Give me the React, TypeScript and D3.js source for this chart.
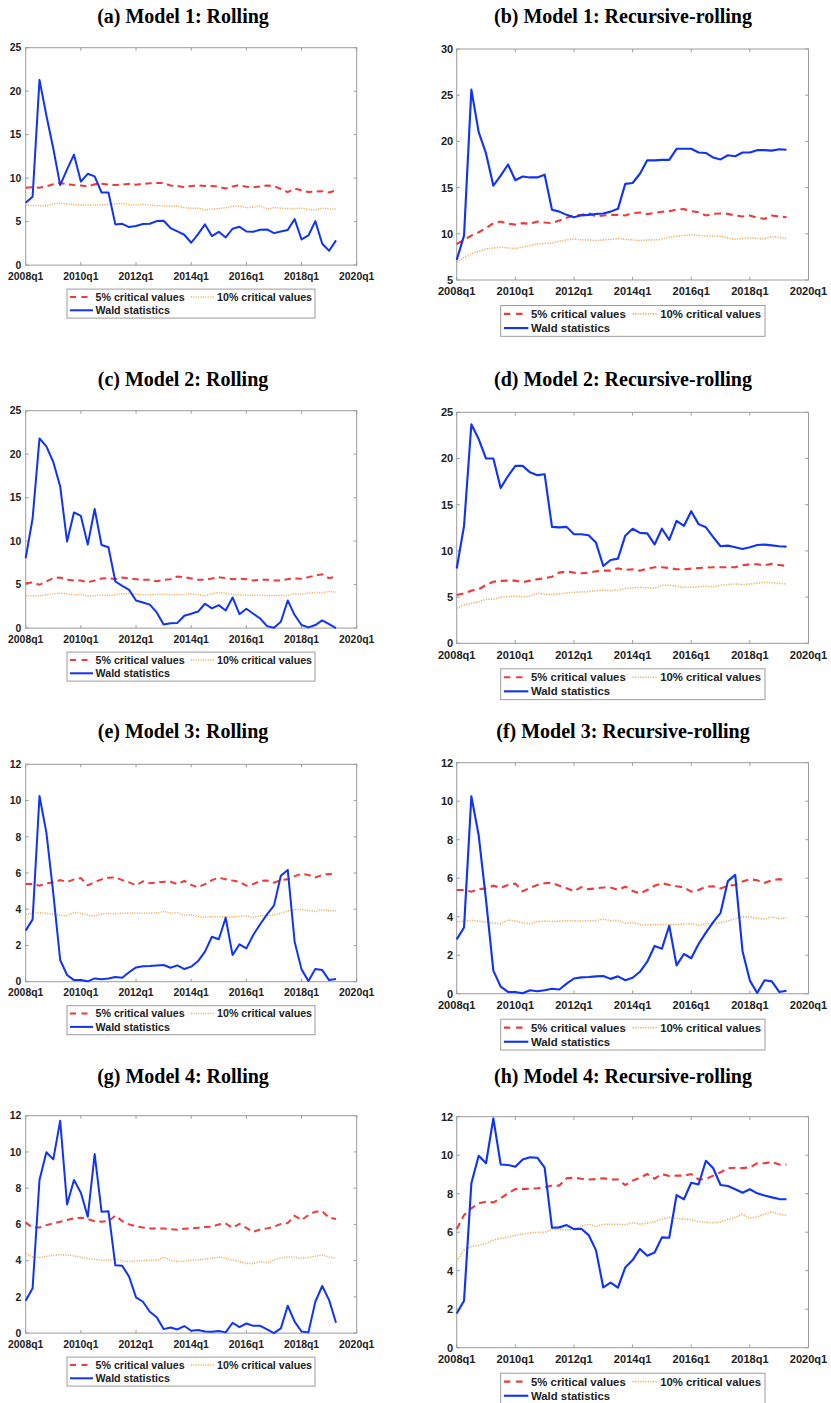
import React from 'react';
import * as d3 from 'd3';

// Quarterly axis: index 0 = 2008q1, labelled every two years.
const xTickQuarters = [0, 8, 16, 24, 32, 40, 48];
const xTickLabels = ['2008q1', '2010q1', '2012q1', '2014q1', '2016q1', '2018q1', '2020q1'];

// Series run 2008q1 .. 2019q2 (46 quarters).
// Model 1, rolling
const waldA = [7.17, 7.86, 21.3, 17.2, 13.4, 9.2, 11.0, 12.7, 9.6, 10.5, 10.2, 8.35, 8.35, 4.68, 4.75, 4.37, 4.49, 4.72, 4.75, 5.06, 5.1, 4.26, 3.87, 3.49, 2.57, 3.57, 4.68, 3.34, 3.83, 3.18, 4.18, 4.41, 3.87, 3.83, 4.06, 4.1, 3.68, 3.87, 4.03, 5.29, 2.95, 3.41, 5.06, 2.45, 1.65, 2.84];
const cv5A = [8.9, 8.95, 8.9, 9.05, 9.3, 9.45, 9.3, 9.2, 9.15, 9.05, 9.3, 9.35, 9.25, 9.2, 9.25, 9.35, 9.25, 9.35, 9.4, 9.45, 9.45, 9.15, 9.1, 8.95, 9.1, 9.15, 9.1, 9.1, 9.0, 8.8, 9.05, 9.2, 9.0, 8.95, 9.05, 9.15, 9.1, 8.75, 8.4, 8.8, 8.6, 8.4, 8.45, 8.5, 8.35, 8.6];
const cv10A = [6.85, 6.85, 6.85, 6.8, 7.05, 7.1, 7.05, 6.95, 6.9, 6.9, 6.9, 6.9, 7.0, 7.05, 7.1, 6.95, 6.9, 7.0, 6.9, 6.85, 6.8, 6.75, 6.8, 6.6, 6.55, 6.55, 6.35, 6.45, 6.5, 6.6, 6.75, 6.8, 6.6, 6.65, 6.8, 6.45, 6.6, 6.55, 6.5, 6.5, 6.55, 6.4, 6.35, 6.55, 6.45, 6.45];

// Model 1, recursive-rolling
const waldB = [7.17, 9.8, 25.6, 21.0, 18.7, 15.2, 16.3, 17.5, 15.8, 16.2, 16.1, 16.1, 16.4, 12.6, 12.4, 12.05, 11.8, 12.0, 12.05, 12.15, 12.2, 12.4, 12.7, 15.4, 15.5, 16.5, 17.95, 17.95, 18.0, 18.0, 19.2, 19.2, 19.2, 18.8, 18.75, 18.25, 18.05, 18.5, 18.4, 18.8, 18.8, 19.05, 19.05, 19.0, 19.15, 19.1];
const cv5B = [8.9, 9.34, 9.8, 10.17, 10.6, 11.15, 11.33, 11.08, 11.0, 11.15, 11.08, 11.33, 11.22, 11.15, 11.44, 11.73, 11.98, 12.05, 12.24, 11.87, 11.98, 12.05, 12.05, 11.98, 12.24, 12.3, 12.13, 12.27, 12.38, 12.45, 12.63, 12.67, 12.45, 12.34, 11.98, 12.16, 12.2, 12.16, 11.98, 11.87, 11.98, 11.73, 11.62, 11.98, 11.87, 11.8];
const cv10B = [6.9, 7.46, 7.82, 8.1, 8.36, 8.47, 8.55, 8.47, 8.4, 8.55, 8.73, 8.9, 8.98, 9.0, 9.2, 9.34, 9.45, 9.34, 9.34, 9.27, 9.34, 9.4, 9.49, 9.4, 9.34, 9.27, 9.34, 9.34, 9.4, 9.63, 9.74, 9.81, 9.88, 9.81, 9.78, 9.74, 9.74, 9.56, 9.41, 9.49, 9.56, 9.49, 9.45, 9.7, 9.63, 9.49];

// Model 2, rolling
const waldC = [8.04, 12.6, 21.8, 20.9, 19.1, 16.3, 9.95, 13.3, 12.9, 9.6, 13.7, 9.55, 9.3, 5.36, 4.86, 4.4, 3.18, 2.95, 2.7, 1.8, 0.42, 0.57, 0.6, 1.42, 1.65, 1.9, 2.8, 2.26, 2.64, 2.03, 3.52, 1.6, 2.22, 1.65, 1.1, 0.23, 0.04, 0.73, 3.18, 1.5, 0.35, 0.08, 0.35, 0.88, 0.46, 0.0];
const cv5C = [5.17, 5.25, 4.98, 5.36, 5.74, 5.82, 5.55, 5.47, 5.47, 5.28, 5.47, 5.7, 5.74, 5.63, 5.82, 5.7, 5.63, 5.55, 5.55, 5.4, 5.55, 5.63, 5.93, 5.86, 5.7, 5.55, 5.55, 5.7, 5.86, 5.74, 5.63, 5.67, 5.63, 5.47, 5.55, 5.55, 5.47, 5.47, 5.63, 5.7, 5.67, 5.86, 6.05, 6.2, 5.74, 5.93];
const cv10C = [3.75, 3.71, 3.71, 3.83, 3.94, 4.02, 3.94, 3.83, 3.87, 3.68, 3.75, 3.79, 3.75, 3.83, 3.94, 3.98, 3.9, 3.83, 3.87, 3.87, 3.9, 3.83, 3.87, 3.87, 3.94, 3.83, 3.71, 3.94, 4.1, 4.02, 3.87, 3.83, 3.79, 3.79, 3.79, 3.75, 3.75, 3.75, 3.75, 3.94, 3.9, 4.02, 4.1, 4.06, 4.21, 4.13];

// Model 2, recursive-rolling
const waldD = [8.1, 12.7, 23.7, 22.1, 20.0, 20.0, 16.8, 18.1, 19.2, 19.2, 18.5, 18.2, 18.3, 12.6, 12.55, 12.6, 11.8, 11.8, 11.7, 10.9, 8.37, 9.02, 9.16, 11.65, 12.4, 11.95, 11.9, 10.7, 12.4, 11.2, 13.25, 12.7, 14.3, 12.9, 12.55, 11.5, 10.5, 10.57, 10.4, 10.2, 10.4, 10.64, 10.68, 10.6, 10.5, 10.46];
const cv5D = [5.23, 5.41, 5.7, 5.84, 6.31, 6.67, 6.75, 6.78, 6.78, 6.6, 6.78, 6.93, 7.03, 7.21, 7.65, 7.76, 7.65, 7.58, 7.65, 7.79, 7.86, 7.86, 8.12, 7.94, 8.01, 7.86, 8.08, 8.23, 8.23, 8.15, 8.01, 8.01, 8.08, 8.15, 8.19, 8.23, 8.23, 8.23, 8.23, 8.44, 8.55, 8.55, 8.44, 8.59, 8.48, 8.37];
const cv10D = [3.79, 4.15, 4.33, 4.5, 4.76, 4.76, 4.98, 5.05, 5.12, 5.01, 5.12, 5.41, 5.34, 5.27, 5.34, 5.45, 5.52, 5.56, 5.59, 5.7, 5.74, 5.7, 5.77, 5.92, 6.02, 6.06, 5.99, 5.95, 6.28, 6.28, 6.17, 6.06, 6.06, 6.13, 6.17, 6.13, 6.28, 6.35, 6.42, 6.35, 6.42, 6.49, 6.6, 6.57, 6.49, 6.42];

// Model 3 (rolling and recursive-rolling give the same series)
const waldE = [2.82, 3.44, 10.25, 8.23, 4.88, 1.2, 0.37, 0.09, 0.09, 0.02, 0.18, 0.13, 0.18, 0.26, 0.22, 0.52, 0.79, 0.85, 0.87, 0.9, 0.92, 0.77, 0.9, 0.7, 0.83, 1.14, 1.66, 2.48, 2.34, 3.53, 1.47, 2.06, 1.84, 2.58, 3.17, 3.72, 4.2, 5.85, 6.17, 2.21, 0.68, 0.04, 0.7, 0.64, 0.09, 0.15];
const cv5E = [5.39, 5.39, 5.3, 5.43, 5.47, 5.61, 5.5, 5.65, 5.72, 5.32, 5.5, 5.65, 5.74, 5.76, 5.61, 5.48, 5.32, 5.54, 5.43, 5.47, 5.52, 5.52, 5.39, 5.56, 5.34, 5.21, 5.39, 5.61, 5.74, 5.65, 5.58, 5.52, 5.3, 5.39, 5.56, 5.58, 5.47, 5.61, 5.65, 5.83, 5.95, 5.89, 5.76, 5.89, 5.95, 5.89];
const cv10E = [3.72, 3.77, 3.81, 3.77, 3.72, 3.66, 3.64, 3.83, 3.77, 3.68, 3.63, 3.74, 3.77, 3.75, 3.77, 3.79, 3.79, 3.77, 3.79, 3.79, 3.88, 3.79, 3.81, 3.66, 3.7, 3.59, 3.57, 3.59, 3.59, 3.59, 3.59, 3.61, 3.64, 3.55, 3.63, 3.66, 3.68, 3.77, 3.9, 3.99, 3.99, 3.92, 3.87, 3.99, 3.9, 3.92];

// Model 4, rolling
const waldG = [1.79, 2.47, 8.45, 9.98, 9.59, 11.72, 7.1, 8.45, 7.75, 6.42, 9.88, 6.7, 6.72, 3.74, 3.72, 3.11, 1.97, 1.73, 1.18, 0.87, 0.22, 0.31, 0.2, 0.39, 0.13, 0.17, 0.09, 0.07, 0.11, 0.04, 0.57, 0.33, 0.53, 0.4, 0.4, 0.2, 0.0, 0.26, 1.51, 0.63, 0.09, 0.04, 1.73, 2.6, 1.82, 0.57];
const cv5G = [6.11, 5.82, 5.83, 5.96, 6.05, 6.15, 6.24, 6.33, 6.37, 6.3, 6.18, 6.15, 6.18, 6.48, 6.18, 6.0, 5.9, 5.83, 5.78, 5.78, 5.78, 5.74, 5.7, 5.76, 5.78, 5.81, 5.85, 5.87, 6.0, 6.05, 5.81, 6.03, 5.81, 5.59, 5.72, 5.78, 5.87, 6.03, 6.07, 6.48, 6.24, 6.51, 6.7, 6.73, 6.37, 6.3];
const cv10G = [4.4, 4.2, 4.17, 4.24, 4.3, 4.33, 4.31, 4.26, 4.18, 4.12, 4.07, 4.02, 4.02, 4.09, 3.98, 3.95, 3.98, 4.0, 4.02, 4.02, 4.18, 4.02, 3.95, 3.98, 4.02, 4.04, 4.09, 4.13, 4.2, 4.13, 4.02, 3.95, 3.85, 3.83, 3.95, 3.87, 4.04, 4.15, 4.2, 4.2, 4.13, 4.17, 4.24, 4.31, 4.2, 4.13];

// Model 4, recursive-rolling
const waldH = [1.78, 2.44, 8.54, 9.97, 9.58, 11.91, 9.52, 9.49, 9.4, 9.78, 9.89, 9.87, 9.35, 6.23, 6.25, 6.37, 6.16, 6.18, 5.85, 5.07, 3.13, 3.38, 3.12, 4.17, 4.55, 5.13, 4.78, 4.95, 5.73, 5.71, 7.93, 7.71, 8.57, 8.48, 9.71, 9.32, 8.45, 8.4, 8.23, 8.05, 8.23, 8.02, 7.91, 7.81, 7.72, 7.71];
const cv5H = [6.16, 6.89, 7.24, 7.5, 7.58, 7.55, 7.76, 8.02, 8.24, 8.24, 8.26, 8.28, 8.33, 8.43, 8.42, 8.8, 8.83, 8.78, 8.74, 8.76, 8.8, 8.74, 8.74, 8.45, 8.68, 8.83, 9.02, 8.78, 9.02, 8.92, 8.94, 8.94, 9.02, 8.74, 8.76, 8.94, 9.11, 9.32, 9.35, 9.33, 9.37, 9.58, 9.58, 9.65, 9.52, 9.52];
const cv10H = [4.5, 5.07, 5.25, 5.32, 5.42, 5.59, 5.68, 5.73, 5.84, 5.9, 5.96, 5.99, 5.99, 6.15, 6.16, 6.11, 6.16, 6.32, 6.42, 6.29, 6.41, 6.41, 6.41, 6.39, 6.49, 6.42, 6.46, 6.55, 6.68, 6.77, 6.72, 6.68, 6.65, 6.55, 6.51, 6.49, 6.53, 6.67, 6.77, 6.93, 6.72, 6.81, 6.93, 7.06, 6.94, 6.86];

const ticks25 = [0, 5, 10, 15, 20, 25];
const ticks30 = [5, 10, 15, 20, 25, 30];
const ticks12 = [0, 2, 4, 6, 8, 10, 12];

const legendLabels = ['5% critical values', '10% critical values', 'Wald statistics'];

const COLORS = {
  wald: '#1133f2',
  cv5: '#ee3a3a',
  cv10: '#eeae5e',
  axis: '#9c9c9c',
  text: '#222222',
};

// Column geometry: the right column is the same figure drawn about 6% larger.
const COLUMNS = {
  L: { x0: 25.7, w: 331, h: 217.4, s: 1, titleX: 183, legX: 67, legW: 248, yGap: 4.3 },
  R: { x0: 456.7, w: 351.8, h: 231, s: 1.063, titleX: 623, legX: 500.7, legW: 264.3, yGap: 3.5 },
};

type PanelSpec = {
  id: string;
  title: string;
  col: 'L' | 'R';
  top: number;
  titleY: number;
  yDomain: [number, number];
  yTicks: number[];
  wald: number[];
  cv5: number[];
  cv10: number[];
};

const panels: PanelSpec[] = [
  { id: 'a', title: '(a) Model 1: Rolling', col: 'L', top: 47.7, titleY: 22.6, yDomain: [0, 25], yTicks: ticks25, wald: waldA, cv5: cv5A, cv10: cv10A },
  { id: 'b', title: '(b) Model 1: Recursive-rolling', col: 'R', top: 49, titleY: 22.6, yDomain: [5, 30], yTicks: ticks30, wald: waldB, cv5: cv5B, cv10: cv10B },
  { id: 'c', title: '(c) Model 2: Rolling', col: 'L', top: 410.7, titleY: 386, yDomain: [0, 25], yTicks: ticks25, wald: waldC, cv5: cv5C, cv10: cv10C },
  { id: 'd', title: '(d) Model 2: Recursive-rolling', col: 'R', top: 412.3, titleY: 386, yDomain: [0, 25], yTicks: ticks25, wald: waldD, cv5: cv5D, cv10: cv10D },
  { id: 'e', title: '(e) Model 3: Rolling', col: 'L', top: 764.3, titleY: 738.2, yDomain: [0, 12], yTicks: ticks12, wald: waldE, cv5: cv5E, cv10: cv10E },
  { id: 'f', title: '(f) Model 3: Recursive-rolling', col: 'R', top: 762.7, titleY: 738.2, yDomain: [0, 12], yTicks: ticks12, wald: waldE, cv5: cv5E, cv10: cv10E },
  { id: 'g', title: '(g) Model 4: Rolling', col: 'L', top: 1115.7, titleY: 1082.6, yDomain: [0, 12], yTicks: ticks12, wald: waldG, cv5: cv5G, cv10: cv10G },
  { id: 'h', title: '(h) Model 4: Recursive-rolling', col: 'R', top: 1116.7, titleY: 1082.6, yDomain: [0, 12], yTicks: ticks12, wald: waldH, cv5: cv5H, cv10: cv10H },
];

const SANS = "Helvetica, Arial, 'Liberation Sans', sans-serif";
const SERIF = "'Times New Roman', 'Liberation Serif', serif";

function Panel({ p }: { p: PanelSpec }) {
  const c = COLUMNS[p.col];
  const s = c.s;
  const left = c.x0;
  const right = c.x0 + c.w;
  const top = p.top;
  const bottom = p.top + c.h;

  const x = d3.scaleLinear().domain([0, 48]).range([left, right]);
  const y = d3.scaleLinear().domain(p.yDomain).range([bottom, top]);
  const line = d3
    .line<number>()
    .x((_, i) => x(i))
    .y((v) => y(v));

  const tickLen = 3 * s;
  const tickFont = 10.4 * s;
  const legFont = 10.7 * s;
  const dash5 = `${6.5 * s} ${4.5 * s}`;
  const dot10 = `${1.1 * s} ${1.3 * s}`;

  // legend geometry
  const legTop = bottom + 24 * s;
  const legH = 29 * s;
  const row1 = legTop + 7.9 * s;
  const row2 = legTop + 21.2 * s;
  const lx = c.legX;
  const sampleLen = 23 * s;
  const textDy = 0.36 * legFont;

  return (
    <g>
      <text
        x={c.titleX}
        y={p.titleY}
        textAnchor="middle"
        fontFamily={SERIF}
        fontWeight="bold"
        fontSize={20}
        fill="#000"
      >
        {p.title}
      </text>

      {/* axes box */}
      <rect x={left} y={top} width={right - left} height={bottom - top} fill="#fff" stroke={COLORS.axis} strokeWidth={1} />

      {/* ticks on all four sides, pointing inward */}
      {xTickQuarters.map((q) => (
        <g key={`xt${q}`}>
          <line x1={x(q)} x2={x(q)} y1={bottom} y2={bottom - tickLen} stroke={COLORS.axis} strokeWidth={1} />
          <line x1={x(q)} x2={x(q)} y1={top} y2={top + tickLen} stroke={COLORS.axis} strokeWidth={1} />
        </g>
      ))}
      {p.yTicks.map((t) => (
        <g key={`yt${t}`}>
          <line x1={left} x2={left + tickLen} y1={y(t)} y2={y(t)} stroke={COLORS.axis} strokeWidth={1} />
          <line x1={right} x2={right - tickLen} y1={y(t)} y2={y(t)} stroke={COLORS.axis} strokeWidth={1} />
        </g>
      ))}

      {/* tick labels */}
      {xTickQuarters.map((q, i) => (
        <text
          key={`xl${q}`}
          x={x(q)}
          y={bottom + 14.4 * s}
          textAnchor="middle"
          fontFamily={SANS}
          fontWeight="bold"
          fontSize={tickFont}
          fill={COLORS.text}
        >
          {xTickLabels[i]}
        </text>
      ))}
      {p.yTicks.map((t) => (
        <text
          key={`yl${t}`}
          x={left - c.yGap}
          y={y(t) + 0.36 * tickFont}
          textAnchor="end"
          fontFamily={SANS}
          fontWeight="bold"
          fontSize={tickFont}
          fill={COLORS.text}
        >
          {t}
        </text>
      ))}

      {/* series */}
      <path d={line(p.cv5) || ''} fill="none" stroke={COLORS.cv5} strokeWidth={2 * s} strokeDasharray={dash5} />
      <path d={line(p.cv10) || ''} fill="none" stroke={COLORS.cv10} strokeWidth={1.5 * s} strokeDasharray={dot10} />
      <path d={line(p.wald) || ''} fill="none" stroke={COLORS.wald} strokeWidth={2 * s} strokeLinejoin="round" />

      {/* legend */}
      <rect x={lx} y={legTop} width={c.legW} height={legH} fill="#fff" stroke={COLORS.axis} strokeWidth={1} />
      <line x1={lx + 3 * s} x2={lx + 3 * s + sampleLen} y1={row1} y2={row1} stroke={COLORS.cv5} strokeWidth={2 * s} strokeDasharray={`${6 * s} ${5.5 * s}`} />
      <text x={lx + 28.5 * s} y={row1 + textDy} fontFamily={SANS} fontWeight="bold" fontSize={legFont} fill={COLORS.text}>
        {legendLabels[0]}
      </text>
      <line x1={lx + 124 * s} x2={lx + 124 * s + sampleLen} y1={row1} y2={row1} stroke={COLORS.cv10} strokeWidth={1.5 * s} strokeDasharray={dot10} />
      <text x={lx + 150 * s} y={row1 + textDy} fontFamily={SANS} fontWeight="bold" fontSize={legFont} fill={COLORS.text}>
        {legendLabels[1]}
      </text>
      <line x1={lx + 3 * s} x2={lx + 3 * s + sampleLen} y1={row2} y2={row2} stroke={COLORS.wald} strokeWidth={2 * s} />
      <text x={lx + 28.5 * s} y={row2 + textDy} fontFamily={SANS} fontWeight="bold" fontSize={legFont} fill={COLORS.text}>
        {legendLabels[2]}
      </text>
    </g>
  );
}

export default function App() {
  return (
    <svg
      width={831}
      height={1403}
      viewBox="0 0 831 1403"
      style={{ position: 'absolute', left: 0, top: 0, background: '#fff', display: 'block' }}
    >
      <rect x={0} y={0} width={831} height={1403} fill="#fff" />
      {panels.map((p) => (
        <Panel key={p.id} p={p} />
      ))}
    </svg>
  );
}
